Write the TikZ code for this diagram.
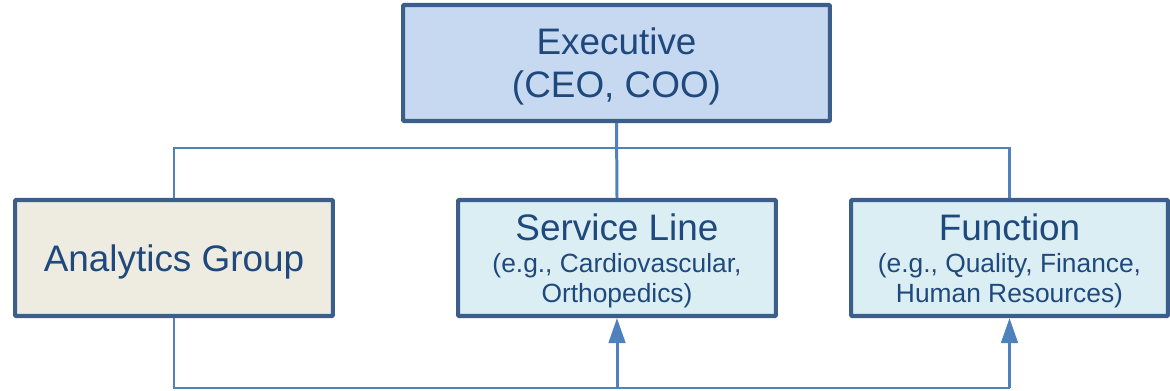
\documentclass[tikz,border=0pt]{standalone}
\usepackage{fontspec}
\setmainfont{Liberation Sans}
\usetikzlibrary{arrows.meta,calc}

\definecolor{boxline}{HTML}{3C5E8B}
\definecolor{execfill}{HTML}{C6D9F0}
\definecolor{groupfill}{HTML}{EEEBE0}
\definecolor{unitfill}{HTML}{DBEEF3}
\definecolor{wire}{HTML}{4F81BD}
\definecolor{label}{HTML}{1F497D}

\begin{document}
\begin{tikzpicture}[x=0.02cm,y=-0.02cm,
    box/.style={draw=boxline,line width=2.3pt,rounded corners=0.5pt,
                minimum height=2.32cm,text=label,align=center,inner sep=0pt,
                text depth=0pt},
    link/.style={draw=wire,line width=1.7pt},
    up/.style={-{Triangle[width=0.33cm,length=0.5cm]}},
    big/.style={font=\fontsize{21}{24.5}\selectfont},
    small/.style={font=\fontsize{15}{17}\selectfont}]

  \useasboundingbox (0,0) rectangle (1170,391);

  \node[box,fill=execfill,minimum width=8.54cm,big] (E) at (616.5,63)
        {Executive\\(CEO, COO)};
  \node[box,fill=groupfill,minimum width=6.36cm,big] (A) at (174,258)
        {Analytics Group};
  \node[box,fill=unitfill,minimum width=6.36cm,small] (S) at (617,258)
        {{\fontsize{21}{20}\selectfont Service Line}\\[1pt](e.g., Cardiovascular,\\Orthopedics)};
  \node[box,fill=unitfill,minimum width=6.34cm,small] (F) at (1009.5,258)
        {{\fontsize{21}{20}\selectfont Function}\\[1pt](e.g., Quality, Finance,\\Human Resources)};

  \coordinate (top) at (0,148);
  \coordinate (bot) at (0,388);

  % reporting lines
  \draw[link] (E.south) -- (S.north);
  \draw[link] (A.north) |- (top -| F.north) -- (F.north);

  % support from the analytics group
  \draw[link] (A.south) |- (bot -| F.south);
  \draw[link,up] (bot -| S.south) -- (S.south);
  \draw[link,up] (bot -| F.south) -- (F.south);
\end{tikzpicture}
\end{document}
